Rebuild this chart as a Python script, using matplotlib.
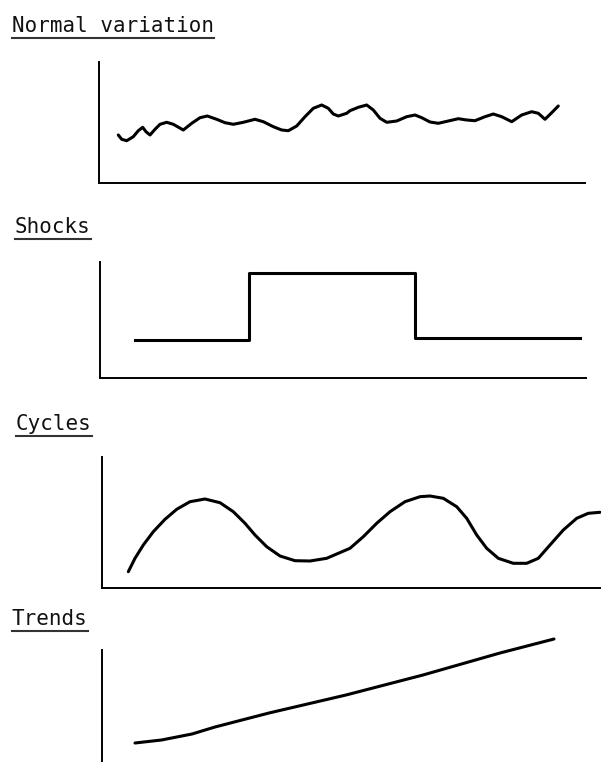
import matplotlib
matplotlib.use("Agg")
import matplotlib.pyplot as plt
from matplotlib.lines import Line2D

W, H = 601, 762

# Normal variation (x along the axis, y above the bottom axis)
normal_x = [19.3, 22.7, 27.7, 34.3, 39.3, 43.7, 47, 51, 56, 61, 67.7, 74.3,
            84.3, 92.7, 101, 108.3, 117.7, 126, 134.3, 144.3, 156, 164.3,
            174.3, 182.7, 189.3, 197.7, 206, 214.3, 222.7, 229.3, 234.3,
            239.3, 247.7, 251, 259.3, 267.7, 274.3, 281, 287.7, 297.7, 307.7,
            316, 322.7, 331, 339.3, 349.3, 359.3, 367.7, 376, 386, 394.3,
            402.7, 412.7, 422.7, 432.7, 439.3, 446, 452.7, 459.3]
normal_y = [48, 43.7, 42.3, 46.3, 52.3, 55.7, 51.3, 48, 53.7, 58.7, 60.7, 58.7,
            53, 59.7, 65.3, 67, 63.7, 60.3, 58.7, 60.7, 63.7, 61.3,
            56.3, 53, 52.3, 57, 66.3, 74.7, 78, 74.7, 69,
            67, 69.7, 72.3, 75.7, 78, 73, 64.7, 60.7, 62, 66.3,
            68, 65.3, 61, 59.7, 62, 64.3, 63, 62.3, 66.3, 69,
            66.3, 61.3, 68, 71.3, 69.7, 63.7, 70.3, 77]

# Shocks: step levels
shock_x = [35, 149, 315, 480]
shock_y = [38, 105, 40, 40]

# Cycles
cycle_x = [26.3, 33, 41.3, 51.3, 63, 74.7, 88, 103, 118, 131.3, 143, 153,
           164.7, 178, 193, 208, 224.7, 248, 261.3, 274.7, 288, 303, 318,
           328, 341.3, 354.7, 364.7, 374.7, 384.7, 396.3, 411.3, 424.7,
           436.3, 448, 461.3, 474.7, 486.3, 498]
cycle_y = [16.3, 29.7, 43, 56.3, 68.7, 78.7, 86.3, 89, 85.3, 76.3, 64.7, 53,
           41.3, 32, 27.3, 27, 29.7, 39.7, 51.3, 64.7, 76.3, 86.3, 91.3,
           92, 89.7, 81.3, 69.7, 53, 39.7, 29.7, 24.7, 24.7,
           29.7, 43, 58, 69.7, 74.7, 75.7]

# Trends
trend_x = [33, 59.5, 90, 113, 167, 244, 321, 398, 452]
trend_y = [19, 22, 28, 35, 49, 67, 87, 109, 123]

TITLES = ["Normal variation", "Shocks", "Cycles", "Trends"]
TITLE_X = [12, 15, 16, 12]
TITLE_BASELINE = [32, 233, 430, 625]

# axes boxes in pixels: left, top, right, bottom
BOXES = [
    (99, 62, 585, 183),
    (100, 262, 586, 378),
    (102, 457, 601, 588),
    (102, 650, 601, 762),
]

LINE_W = 2.2
SPINE_W = 1.4


def make_axes(fig, box):
    left, top, right, bottom = box
    ax = fig.add_axes([left / W, 1 - bottom / H, (right - left) / W, (bottom - top) / H])
    ax.set_xlim(0, right - left)
    ax.set_ylim(0, bottom - top)
    ax.spines["top"].set_visible(False)
    ax.spines["right"].set_visible(False)
    for side in ("left", "bottom"):
        ax.spines[side].set_linewidth(SPINE_W)
        ax.spines[side].set_color("black")
    ax.set_xticks([])
    ax.set_yticks([])
    ax.patch.set_visible(False)
    return ax


def add_title(fig, renderer, text, x, baseline):
    t = fig.text(x / W, 1 - baseline / H, text, family="DejaVu Sans Mono",
                 fontsize=15, va="baseline", ha="left", color="#111111")
    bb = t.get_window_extent(renderer=renderer)
    y_line = 1 - (baseline + 6) / H
    fig.add_artist(Line2D([bb.x0 / W, bb.x1 / W], [y_line, y_line],
                          transform=fig.transFigure, color="#333333", lw=1.5))


def main():
    fig = plt.figure(figsize=(W / 100, H / 100), dpi=100)
    renderer = fig.canvas.get_renderer()

    for text, x, base in zip(TITLES, TITLE_X, TITLE_BASELINE):
        add_title(fig, renderer, text, x, base)

    style = dict(color="black", lw=LINE_W, solid_joinstyle="round",
                 solid_capstyle="round")

    ax1 = make_axes(fig, BOXES[0])
    ax1.plot(normal_x, normal_y, **style)

    ax2 = make_axes(fig, BOXES[1])
    ax2.step(shock_x, shock_y, where="post", color="black", lw=LINE_W)

    ax3 = make_axes(fig, BOXES[2])
    ax3.plot(cycle_x, cycle_y, **style)

    ax4 = make_axes(fig, BOXES[3])
    ax4.spines["bottom"].set_visible(False)
    ax4.plot(trend_x, trend_y, clip_on=False, **style)

    fig.savefig("out.png", dpi=100, facecolor="white")


if __name__ == "__main__":
    main()
